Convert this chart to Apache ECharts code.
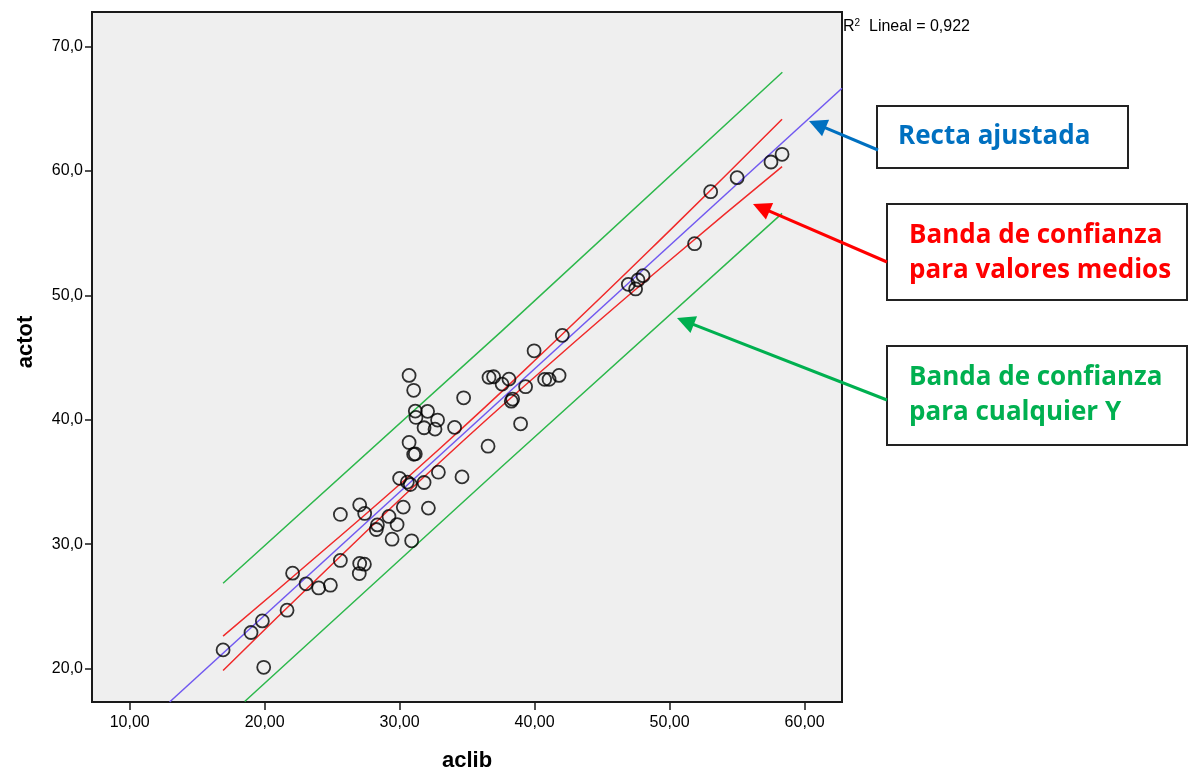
<!DOCTYPE html>
<html>
<head>
<meta charset="utf-8">
<script src="https://cdn.jsdelivr.net/npm/echarts@6/dist/echarts.min.js"></script>
<style>
html,body{margin:0;padding:0;background:#fff;}
#c{width:1189px;height:773px;}
</style>
</head>
<body>
<div id="c"></div>
<script>
// ---- data ----
const aclib = [16.92,18.99,19.83,19.93,21.66,22.07,23.07,24.00,24.87,25.61,25.61,27.04,27.04,27.01,27.39,27.41,28.27,28.35,29.21,29.44,29.81,30.00,30.27,30.57,30.79,30.89,30.70,30.70,31.04,31.16,31.21,31.04,31.16,31.81,31.81,32.07,32.13,32.62,32.81,32.87,34.07,34.62,34.74,36.55,36.62,36.96,37.59,38.10,38.27,38.37,38.96,39.33,39.96,40.74,41.07,41.81,42.05,46.94,47.48,47.66,48.03,51.85,53.04,55.00,57.51,58.33];
const actot = [21.50,22.90,23.83,20.10,24.69,27.67,26.81,26.48,26.70,32.39,28.69,33.16,28.45,27.64,28.39,32.47,31.18,31.55,32.23,30.40,31.58,35.29,32.98,34.99,34.80,30.27,38.18,43.57,42.37,40.70,40.19,37.22,37.26,39.36,34.96,40.68,32.90,39.25,39.98,35.79,39.39,35.41,41.77,37.88,43.41,43.46,42.87,43.27,41.50,41.67,39.68,42.66,45.55,43.25,43.25,43.57,46.79,50.89,50.52,51.24,51.59,54.16,58.34,59.47,60.73,61.35];

const fitX = [12.96, 62.77];
const fitY = [17.31, 66.66];
const meanBandX = [16.92, 25, 33, 41, 50, 58.33];
const meanUpper = [22.61, 30.09, 37.71, 45.79, 55.21, 64.16];
const meanLower = [19.85, 28.39, 36.61, 44.39, 52.81, 60.36];
const predUpperX = [16.92, 37.5, 58.35];
const predUpper = [26.86, 47.07, 67.95];
const predLowerX = [18.52, 37.5, 58.33];
const predLower = [17.35, 36.17, 56.6];

const xTicks = [10, 20, 30, 40, 50, 60];
const yTicks = [20, 30, 40, 50, 60, 70];
const xRange = [7.21, 62.77];
const yRange = [17.31, 72.79];

const r2Value = '0,922';
const xName = 'aclib';
const yName = 'actot';
const notes = [
  {lines: ['Recta ajustada'], color: '#0070c0', box: [877, 106, 251, 62], text: [898, 137], arrow: [[878, 150], [809, 121]]},
  {lines: ['Banda de confianza', 'para valores medios'], color: '#ff0000', box: [887, 204, 300, 96], text: [909, 236], arrow: [[887, 262], [753, 204]]},
  {lines: ['Banda de confianza', 'para cualquier Y'], color: '#00b050', box: [887, 346, 300, 99], text: [909, 378], arrow: [[887, 400], [677, 318]]}
];

const zip = (a, b) => a.map((v, i) => [v, b[i]]);
const fmtX = v => v.toFixed(2).replace('.', ',');
const fmtY = v => v.toFixed(1).replace('.', ',');

const chart = echarts.init(document.getElementById('c'), null, {renderer: 'canvas'});

function arrowGraphics(n) {
  const [s, t] = n.arrow;
  const dx = t[0] - s[0], dy = t[1] - s[1];
  const L = Math.hypot(dx, dy);
  const ux = dx / L, uy = dy / L;
  const hl = 18, hw = 9;
  const bx = t[0] - ux * hl, by = t[1] - uy * hl;
  const px = -uy, py = ux;
  return [
    {type: 'line', shape: {x1: s[0], y1: s[1], x2: bx + ux * 2, y2: by + uy * 2}, style: {stroke: n.color, lineWidth: 3}, z: 100},
    {type: 'polygon', shape: {points: [[t[0], t[1]], [bx + px * hw, by + py * hw], [bx - px * hw, by - py * hw]]}, style: {fill: n.color}, z: 100}
  ];
}

const noteFont = 'bold 26px "Open Sans", Lato, sans-serif';
const axisFont = '"Liberation Sans", Arial, sans-serif';
const graphics = [];
notes.forEach(n => {
  graphics.push({type: 'rect', shape: {x: n.box[0], y: n.box[1], width: n.box[2], height: n.box[3]}, style: {fill: '#fff', stroke: '#222', lineWidth: 2}, z: 90});
  n.lines.forEach((ln, i) => {
    graphics.push({type: 'text', x: n.text[0], y: n.text[1] + i * 35, style: {text: ln, fill: n.color, font: noteFont, textAlign: 'left', textVerticalAlign: 'middle'}, z: 95});
  });
  arrowGraphics(n).forEach(g => graphics.push(g));
});
graphics.push({type: 'text', x: 843, y: 27, style: {
  text: '{r|R}{s|2}{t|  Lineal = ' + r2Value + '}',
  textAlign: 'left', textVerticalAlign: 'middle',
  rich: {
    r: {fontSize: 16, fontFamily: axisFont, fill: '#000'},
    s: {fontSize: 10, fontFamily: axisFont, fill: '#000', verticalAlign: 'top', padding: [0, 0, 8, 0]},
    t: {fontSize: 16, fontFamily: axisFont, fill: '#000'}
  }}, z: 95});
graphics.push({type: 'text', x: 467, y: 761, style: {text: xName, fill: '#000', font: 'bold 22px ' + axisFont, textAlign: 'center', textVerticalAlign: 'middle'}, z: 95});
graphics.push({type: 'text', x: 26, y: 342, rotation: Math.PI / 2, style: {text: yName, fill: '#000', font: 'bold 22px ' + axisFont, textAlign: 'center', textVerticalAlign: 'middle'}, z: 95});

const lineStyle = (c) => ({color: c, width: 1.5});

chart.setOption({
  animation: false,
  backgroundColor: '#ffffff',
  grid: {left: 92, top: 12, width: 750, height: 690, show: true, backgroundColor: '#efefef', borderColor: '#1a1a1a', borderWidth: 2},
  xAxis: {
    type: 'value', min: xRange[0], max: xRange[1],
    axisLine: {show: true, lineStyle: {color: '#1a1a1a', width: 2}},
    axisTick: {show: true, length: 8, customValues: xTicks, lineStyle: {color: '#1a1a1a', width: 1.5}},
    axisLabel: {customValues: xTicks, formatter: fmtX, color: '#000', fontSize: 16, fontFamily: axisFont, margin: 13},
    splitLine: {show: false}
  },
  yAxis: {
    type: 'value', min: yRange[0], max: yRange[1],
    axisLine: {show: true, lineStyle: {color: '#1a1a1a', width: 2}},
    axisTick: {show: true, length: 7, customValues: yTicks, lineStyle: {color: '#1a1a1a', width: 1.5}},
    axisLabel: {customValues: yTicks, formatter: fmtY, color: '#000', fontSize: 16, fontFamily: axisFont, margin: 9},
    splitLine: {show: false}
  },
  series: [
    {type: 'line', data: zip(predUpperX, predUpper), showSymbol: false, lineStyle: lineStyle('#2db84c'), silent: true, z: 2},
    {type: 'line', data: zip(predLowerX, predLower), showSymbol: false, lineStyle: lineStyle('#2db84c'), silent: true, z: 2},
    {type: 'line', data: zip(meanBandX, meanUpper), showSymbol: false, smooth: true, lineStyle: lineStyle('#f02a2a'), silent: true, z: 2},
    {type: 'line', data: zip(meanBandX, meanLower), showSymbol: false, smooth: true, lineStyle: lineStyle('#f02a2a'), silent: true, z: 2},
    {type: 'line', data: zip(fitX, fitY), showSymbol: false, lineStyle: lineStyle('#7058f0'), silent: true, z: 3},
    {type: 'scatter', data: zip(aclib, actot), symbol: 'circle', symbolSize: 13,
      itemStyle: {color: 'rgba(0,0,0,0)', borderColor: '#000', borderWidth: 1.8}, z: 5}
  ],
  graphic: graphics
});
</script>
</body>
</html>
